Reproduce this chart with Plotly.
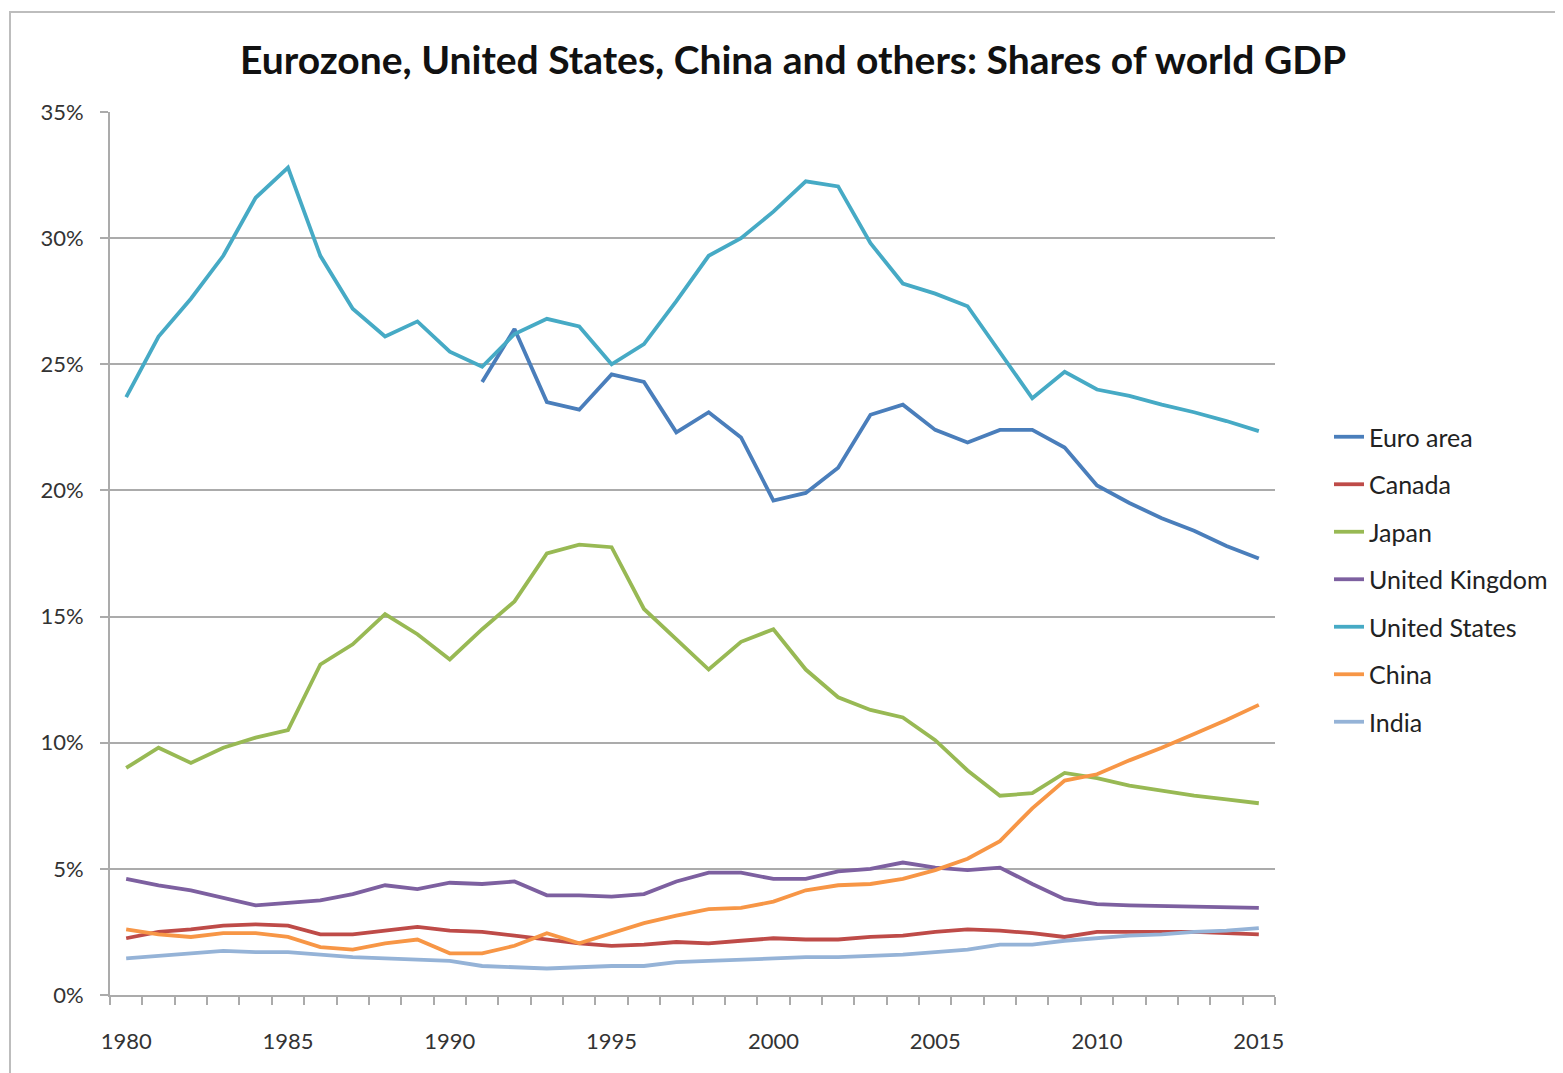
import plotly.graph_objects as go

years = list(range(1980, 2016))

euro_area = [None]*11 + [24.3, 26.4, 23.5, 23.2, 24.6, 24.3, 22.3, 23.1, 22.1, 19.6, 19.9, 20.9, 23.0, 23.4, 22.4, 21.9, 22.4, 22.4, 21.7, 20.2, 19.5, 18.9, 18.4, 17.8, 17.3]
canada = [2.25, 2.5, 2.6, 2.75, 2.8, 2.75, 2.4, 2.4, 2.55, 2.7, 2.55, 2.5, 2.35, 2.2, 2.05, 1.95, 2.0, 2.1, 2.05, 2.15, 2.25, 2.2, 2.2, 2.3, 2.35, 2.5, 2.6, 2.55, 2.45, 2.3, 2.5, 2.5, 2.5, 2.5, 2.45, 2.4]
japan = [9.0, 9.8, 9.2, 9.8, 10.2, 10.5, 13.1, 13.9, 15.1, 14.3, 13.3, 14.5, 15.6, 17.5, 17.85, 17.75, 15.3, 14.1, 12.9, 14.0, 14.5, 12.9, 11.8, 11.3, 11.0, 10.1, 8.9, 7.9, 8.0, 8.8, 8.6, 8.3, 8.1, 7.9, 7.75, 7.6]
united_kingdom = [4.6, 4.35, 4.15, 3.85, 3.55, 3.65, 3.75, 4.0, 4.35, 4.2, 4.45, 4.4, 4.5, 3.95, 3.95, 3.9, 4.0, 4.5, 4.85, 4.85, 4.6, 4.6, 4.9, 5.0, 5.25, 5.05, 4.95, 5.05, 4.4, 3.8, 3.6, 3.55, 3.52, 3.5, 3.48, 3.45]
united_states = [23.7, 26.1, 27.6, 29.3, 31.6, 32.8, 29.3, 27.2, 26.1, 26.7, 25.5, 24.9, 26.2, 26.8, 26.5, 25.0, 25.8, 27.5, 29.3, 30.0, 31.05, 32.25, 32.05, 29.8, 28.2, 27.8, 27.3, 25.5, 23.65, 24.7, 24.0, 23.75, 23.4, 23.1, 22.75, 22.35]
china = [2.6, 2.4, 2.3, 2.45, 2.45, 2.3, 1.9, 1.8, 2.05, 2.2, 1.65, 1.65, 1.95, 2.45, 2.05, 2.45, 2.85, 3.15, 3.4, 3.45, 3.7, 4.15, 4.35, 4.4, 4.6, 4.95, 5.4, 6.1, 7.4, 8.5, 8.75, 9.3, 9.8, 10.35, 10.9, 11.5]
india = [1.45, 1.55, 1.65, 1.75, 1.7, 1.7, 1.6, 1.5, 1.45, 1.4, 1.35, 1.15, 1.1, 1.05, 1.1, 1.15, 1.15, 1.3, 1.35, 1.4, 1.45, 1.5, 1.5, 1.55, 1.6, 1.7, 1.8, 2.0, 2.0, 2.15, 2.25, 2.35, 2.4, 2.5, 2.55, 2.65]

series = [
    ("Euro area", euro_area, "#4A7EBB"),
    ("Canada", canada, "#BE4B48"),
    ("Japan", japan, "#98B954"),
    ("United Kingdom", united_kingdom, "#7D60A0"),
    ("United States", united_states, "#46AAC5"),
    ("China", china, "#F79646"),
    ("India", india, "#95B3D7"),
]

y_ticks = [0, 5, 10, 15, 20, 25, 30, 35]
x_ticks = [1980, 1985, 1990, 1995, 2000, 2005, 2010, 2015]

fig = go.Figure()
for i, (name, vals, color) in enumerate(series):
    fig.add_trace(go.Scatter(
        x=years, y=vals, name=name, mode="lines",
        line=dict(color=color, width=3.8),
        connectgaps=False, legendgroup=f"g{i}",
    ))

# the page body adds an 8px offset, so the figure is drawn 8px smaller
W, H = 1555, 1065
L, R, T, B = 102, 288, 104, 78
pw = W - L - R
ph = H - T - B

fig.update_layout(
    width=W, height=H,
    margin=dict(l=L, r=R, t=T, b=B, autoexpand=False),
    paper_bgcolor="white", plot_bgcolor="white",
    font=dict(family="Lato, 'Open Sans', sans-serif", color="#333333"),
    title=dict(
        text="<b>Eurozone, United States, China and others: Shares of world GDP</b>",
        x=785 / W, xanchor="center", y=1 - 52 / H, yanchor="middle",
        font=dict(size=39, color="#111111", family="Lato, sans-serif"),
    ),
    xaxis=dict(
        range=[1979.5, 2015.5], tickvals=x_ticks, ticktext=[str(v) for v in x_ticks],
        showgrid=False, zeroline=False, showline=True, linecolor="#ababab", linewidth=2,
        ticks="", tickfont=dict(size=22, color="#333333"),
        minor=dict(ticks="outside", ticklen=8, tickwidth=2, tickcolor="#ababab",
                   tick0=1979.5, dtick=1, showgrid=False),
        ticklabelstandoff=26, automargin=False,
    ),
    yaxis=dict(
        range=[0, 35], tickvals=y_ticks, ticktext=[f"{v}%" for v in y_ticks],
        showgrid=True, gridcolor="#ababab", gridwidth=2,
        zeroline=False, showline=True, linecolor="#ababab", linewidth=2,
        ticks="outside", ticklen=8, tickwidth=2, tickcolor="#ababab",
        tickfont=dict(size=22, color="#333333"),
        ticklabelstandoff=12, automargin=False,
    ),
    legend=dict(
        x=(1321 - L) / pw, xref="paper", y=(H - B - 406) / ph, yref="paper",
        xanchor="left", yanchor="top",
        font=dict(size=25, color="#222222"),
        traceorder="grouped", tracegroupgap=12,
        itemwidth=30, bgcolor="rgba(0,0,0,0)",
    ),
    shapes=[dict(
        type="rect", xref="paper", yref="paper",
        x0=(2 - L) / pw, x1=(W + 20 - L) / pw,
        y0=-(B + 20) / ph, y1=(H - 4 - B) / ph,
        line=dict(color="#bdbdbd", width=2), fillcolor="rgba(0,0,0,0)", layer="below",
    )],
)

fig.write_html("out.html")
